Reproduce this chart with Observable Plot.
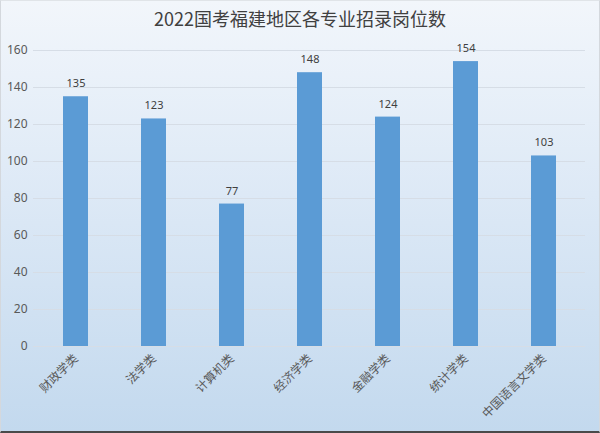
<!DOCTYPE html>
<html>
<head>
<meta charset="utf-8">
<script src="https://cdn.jsdelivr.net/npm/d3@7"></script>
<script src="https://cdn.jsdelivr.net/npm/@observablehq/plot@0.6"></script>
<style>
  html, body { margin: 0; padding: 0; }
  #wrap {
    position: relative; width: 600px; height: 433px; box-sizing: border-box;
    background: linear-gradient(to bottom, #f2f6fb 0%, #dde9f6 45%, #c3d9ee 100%);
    border-left: 1px solid #d4d8dd; border-right: 1px solid #d4d8dd; border-top: 1px solid #e0e4e8;
    border-bottom: 2px solid #4a4a4a; overflow: hidden;
  }
  #title {
    position: absolute; top: 4px; left: 0; width: 100%; text-align: center;
    font-family: "Noto Sans CJK SC", "Noto Sans", sans-serif; font-size: 18px; color: #404040;
  }
  svg { position: absolute; top: 0; left: 0; background: transparent !important; }
</style>
</head>
<body>
<div id="wrap"><div id="title">2022国考福建地区各专业招录岗位数</div></div>
<script>
const categories = ["财政学类", "法学类", "计算机类", "经济学类", "金融学类", "统计学类", "中国语言文学类"];
const values = [135, 123, 77, 148, 124, 154, 103];
const yTicks = [0, 20, 40, 60, 80, 100, 120, 140, 160];

const data = categories.map((c, i) => ({category: c, value: values[i]}));

const chart = Plot.plot({
  width: 598,
  height: 431,
  marginTop: 49,
  marginBottom: 86,
  marginLeft: 32,
  marginRight: 14,
  style: {background: "transparent", fontFamily: "Noto Sans, sans-serif"},
  x: {domain: categories, paddingInner: 0.68, paddingOuter: 0.34, label: null},
  y: {domain: [0, 160], ticks: yTicks, label: null},
  marks: [
    Plot.ruleY(yTicks, {stroke: "#d6dde6", strokeWidth: 1}),
    Plot.barY(data, {x: "category", y: "value", fill: "#5b9bd5"}),
    Plot.text(data, {x: "category", y: "value", text: d => String(d.value), dy: -13, fontSize: 11, fill: "#404040", fontFamily: "Noto Sans, sans-serif"}),
    Plot.axisY({ticks: yTicks, tickSize: 0, tickPadding: 6, fontSize: 12, color: "#595959", label: null}),
    Plot.axisX({tickSize: 0, tickPadding: 10, tickRotate: -45, fontSize: 12, color: "#595959", label: null, fontFamily: "Noto Sans CJK SC, sans-serif"})
  ]
});
document.getElementById("wrap").appendChild(chart);
</script>
</body>
</html>
